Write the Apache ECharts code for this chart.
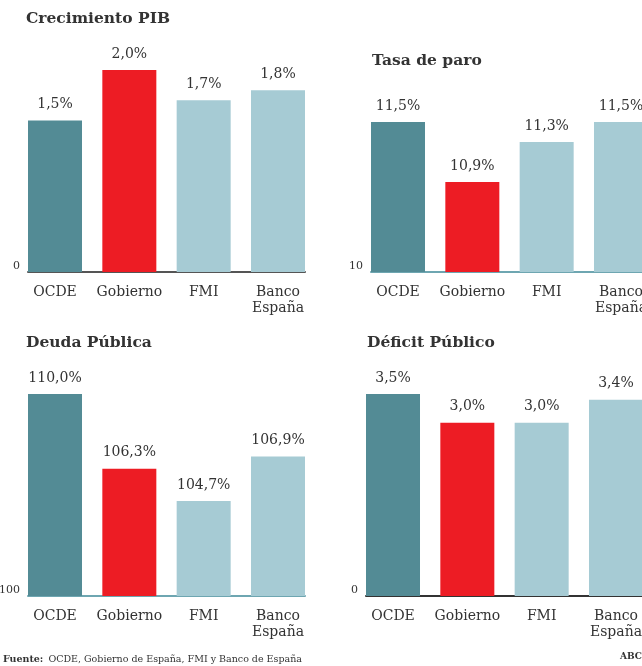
<!DOCTYPE html>
<html>
<head>
<meta charset="utf-8">
<script src="https://cdn.jsdelivr.net/npm/echarts@6/dist/echarts.min.js"></script>
<style>
  html, body { margin: 0; padding: 0; background: #fff; }
  #main { width: 642px; height: 666px; }
</style>
</head>
<body>
<div id="main"></div>
<script>
const categorias = ["OCDE", "Gobierno", "FMI", "Banco\nEspaña"];
const pib = [1.5, 2.0, 1.7, 1.8];
const paro = [11.5, 10.9, 11.3, 11.5];
const deuda = [110.0, 106.3, 104.7, 106.9];
const deficit = [3.5, 3.0, 3.0, 3.4];
const colores = ["#538b95", "#ed1c24", "#a6cbd4", "#a6cbd4"];
const titulos = ["Crecimiento PIB", "Tasa de paro", "Deuda Pública", "Déficit Público"];

const chart = echarts.init(document.querySelector("#main"));
const fuente = "DejaVu Serif";

// paneles: dónde va cada gráfico
const paneles = [
    { datos: pib, min: 0, max: 2.0, left: 28, top: 70, height: 202, linea: "#555555", tx: 26, ty: 11 },
    { datos: paro, min: 10, max: 11.5, left: 371, top: 122, height: 150, linea: "#6ea6b1", tx: 372, ty: 53 },
    { datos: deuda, min: 100, max: 110, left: 28, top: 394, height: 202, linea: "#6ea6b1", tx: 26, ty: 335 },
    { datos: deficit, min: 0, max: 3.5, left: 366, top: 394, height: 202, linea: "#333333", tx: 367, ty: 335 },
];

const grid = [], xAxis = [], yAxis = [], series = [], title = [];

paneles.forEach((p, i) => {
    grid.push({ left: p.left, width: 277, top: p.top, height: p.height, outerBoundsMode: "none" });
    xAxis.push({
        type: "value",
        gridIndex: i,
        min: -0.3633,
        max: 3.3633,
        splitLine: { show: false },
        axisTick: { show: false },
        axisLine: { show: true, onZero: false, lineStyle: { color: p.linea, width: 2 } },
        axisLabel: {
            customValues: [0, 1, 2, 3],
            formatter: (v) => categorias[Math.round(v)],
            margin: 12,
            fontFamily: fuente,
            fontSize: 14,
            lineHeight: 16,
            color: "#333",
        },
    });
    yAxis.push({
        type: "value",
        gridIndex: i,
        min: p.min,
        max: p.max,
        splitLine: { show: false },
        axisTick: { show: false },
        axisLine: { show: false },
        axisLabel: {
            customValues: [p.min],
            margin: 8,
            fontFamily: fuente,
            fontSize: 11,
            color: "#333",
            verticalAlign: "bottom",
        },
    });
    series.push({
        type: "bar",
        xAxisIndex: i,
        yAxisIndex: i,
        barWidth: 54,
        data: p.datos.map((v, j) => ({ value: [j, v], itemStyle: { color: colores[j] } })),
        label: {
            show: true,
            position: "top",
            distance: 9,
            fontFamily: fuente,
            fontSize: 14,
            color: "#333",
            formatter: (d) => d.value[1].toFixed(1).replace(".", ",") + "%",
        },
    });
    title.push({
        text: titulos[i],
        left: p.tx,
        top: p.ty,
        padding: 0,
        textStyle: { fontFamily: fuente, fontSize: 15.5, fontWeight: "bold", color: "#333" },
    });
});

title.push({
    text: "{b|Fuente:} {n|OCDE, Gobierno de España, FMI y Banco de España}",
    left: 3,
    top: 651,
    padding: 0,
    textStyle: {
        fontWeight: "normal",
        rich: {
            b: { fontFamily: fuente, fontSize: 9.5, fontWeight: "bold", color: "#333" },
            n: { fontFamily: fuente, fontSize: 9.5, fontWeight: "normal", color: "#333" },
        },
    },
});
title.push({
    text: "ABC",
    right: 0,
    top: 652,
    padding: 0,
    textStyle: { fontFamily: fuente, fontSize: 9, fontWeight: "bold", color: "#333" },
});

chart.setOption({
    animation: false,
    title: title,
    grid: grid,
    xAxis: xAxis,
    yAxis: yAxis,
    series: series,
});
</script>
</body>
</html>
